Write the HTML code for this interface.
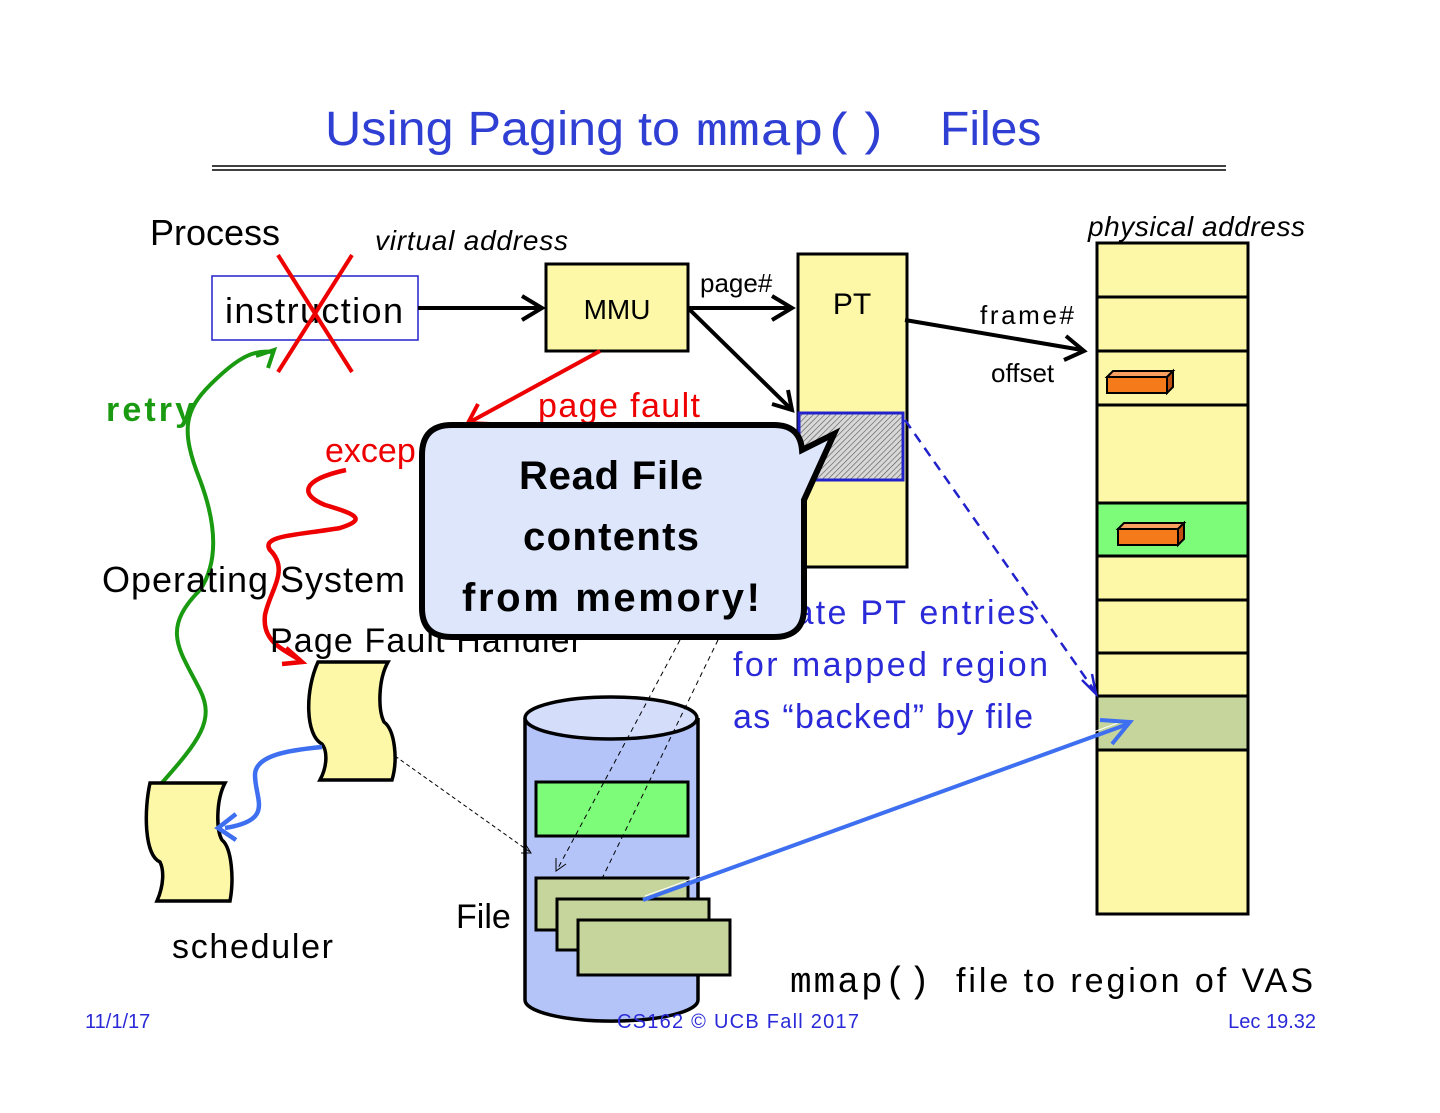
<!DOCTYPE html>
<html><head><meta charset="utf-8"><style>
html,body{margin:0;padding:0;background:#fff}
svg{display:block}
text{font-family:"Liberation Sans",sans-serif}
</style></head><body>
<svg width="1440" height="1113" viewBox="0 0 1440 1113" xmlns="http://www.w3.org/2000/svg">
<defs>
<pattern id="hatch" width="4" height="4" patternUnits="userSpaceOnUse" patternTransform="rotate(45)">
<rect width="4" height="4" fill="#d8d8d8"/><line x1="0" y1="0" x2="0" y2="4" stroke="#555" stroke-width="1.2"/></pattern>
</defs>
<!-- title -->
<text x="325" y="145" font-size="48" fill="#2f3fd4" textLength="355" lengthAdjust="spacingAndGlyphs">Using Paging to</text>
<text x="696" y="145" font-size="46" fill="#2f3fd4" font-family="Liberation Mono" textLength="192" lengthAdjust="spacingAndGlyphs" style="font-family:'Liberation Mono',monospace">mmap()</text>
<text x="940" y="145" font-size="48" fill="#2f3fd4">Files</text>
<line x1="212" y1="166" x2="1226" y2="166" stroke="#000" stroke-width="1.5"/>
<line x1="212" y1="170" x2="1226" y2="170" stroke="#000" stroke-width="1.5"/>

<text x="150" y="245" font-size="36" fill="#000">Process</text>
<text x="375" y="250" font-size="28" font-style="italic" fill="#000" textLength="193">virtual address</text>
<text x="1088" y="236" font-size="28" font-style="italic" fill="#000" textLength="217">physical address</text>

<rect x="212" y="276" width="206" height="64" fill="#fff" stroke="#22c" stroke-width="1.5"/>
<text x="225" y="323" font-size="36" fill="#000" textLength="178">instruction</text>
<line x1="278" y1="255" x2="352" y2="372" stroke="#e00" stroke-width="4"/>
<line x1="352" y1="255" x2="278" y2="372" stroke="#e00" stroke-width="4"/>

<line x1="418" y1="308" x2="540" y2="308" stroke="#000" stroke-width="4"/>
<polyline points="522,296 542,308 522,320" fill="none" stroke="#000" stroke-width="4"/>
<rect x="546" y="264" width="142" height="87" fill="#fdf8a8" stroke="#000" stroke-width="3"/>
<text x="617" y="319" font-size="28" text-anchor="middle">MMU</text>
<text x="700" y="292" font-size="26">page#</text>
<line x1="688" y1="308" x2="790" y2="308" stroke="#000" stroke-width="4"/>
<polyline points="772,296 792,308 772,320" fill="none" stroke="#000" stroke-width="4"/>
<line x1="688" y1="308" x2="790" y2="408" stroke="#000" stroke-width="4"/>
<polyline points="772,404 792,410 788,390" fill="none" stroke="#000" stroke-width="4"/>

<rect x="798" y="254" width="109" height="313" fill="#fdf8a8" stroke="#000" stroke-width="3"/>
<text x="852" y="314" font-size="30" text-anchor="middle">PT</text>
<rect x="799" y="413" width="104" height="67" fill="url(#hatch)" stroke="#22c" stroke-width="3"/>
<line x1="905" y1="320" x2="1082" y2="350" stroke="#000" stroke-width="4"/>
<polyline points="1066,336 1084,351 1064,360" fill="none" stroke="#000" stroke-width="4"/>
<text x="980" y="324" font-size="26" textLength="94">frame#</text>
<text x="991" y="382" font-size="26">offset</text>

<!-- physical memory -->
<rect x="1097" y="243" width="151" height="671" fill="#fdf8a8" stroke="#000" stroke-width="3"/>
<rect x="1097" y="503" width="151" height="53" fill="#7cfc78" stroke="#000" stroke-width="3"/>
<rect x="1097" y="696" width="151" height="54" fill="#c5d59c" stroke="#000" stroke-width="3"/>
<g stroke="#000" stroke-width="3">
<line x1="1097" y1="297" x2="1248" y2="297"/><line x1="1097" y1="351" x2="1248" y2="351"/>
<line x1="1097" y1="405" x2="1248" y2="405"/><line x1="1097" y1="600" x2="1248" y2="600"/>
<line x1="1097" y1="653" x2="1248" y2="653"/></g>
<g stroke="#000" stroke-width="2" fill="#f47a1a">
<rect x="1107" y="377" width="60" height="16"/><polygon points="1107,377 1113,371 1173,371 1167,377" fill="#f9a060"/><polygon points="1167,377 1173,371 1173,387 1167,393" fill="#c05010"/>
<rect x="1118" y="529" width="60" height="16"/><polygon points="1118,529 1124,523 1184,523 1178,529" fill="#f9a060"/><polygon points="1178,529 1184,523 1184,539 1178,545" fill="#c05010"/>
</g>

<!-- dashed blue -->
<line x1="905" y1="420" x2="1094" y2="690" stroke="#22c" stroke-width="2.5" stroke-dasharray="10,7"/>
<polyline points="1082,680 1096,694 1092,674" fill="none" stroke="#22c" stroke-width="2.5"/>

<!-- red page fault -->
<line x1="600" y1="351" x2="470" y2="422" stroke="#e00" stroke-width="4"/>
<polyline points="478,404 468,423 490,424" fill="none" stroke="#e00" stroke-width="4"/>
<text x="538" y="417" font-size="34" fill="#e00" textLength="162">page fault</text>
<text x="325" y="462" font-size="34" fill="#e00">excep</text>
<path d="M346,470 C300,480 300,495 325,505 C360,515 365,520 340,528 C300,535 260,535 270,550 C290,570 270,590 265,615 C262,640 280,648 300,660" fill="none" stroke="#e00" stroke-width="4.5"/>
<polyline points="286,648 302,662 282,664" fill="none" stroke="#e00" stroke-width="4.5"/>

<!-- green retry -->
<text x="106" y="421" font-size="34" font-weight="bold" fill="#1a9a10" textLength="88">retry</text>
<path d="M160,785 C200,740 215,720 200,690 C180,650 160,630 200,590 C220,560 215,520 200,480 C180,430 185,410 210,385 C240,355 255,350 272,352" fill="none" stroke="#1a9a10" stroke-width="4"/>
<polyline points="256,356 274,350 268,368" fill="none" stroke="#1a9a10" stroke-width="4"/>

<text x="102" y="592" font-size="36" textLength="303">Operating System</text>
<text x="270" y="652" font-size="34" textLength="312">Page Fault Handler</text>

<!-- scrolls -->
<path d="M318,662 L388,662 C378,680 378,710 384,722 C395,730 398,760 392,780 L320,780 C328,765 327,750 322,744 C305,735 305,690 318,662 Z" fill="#fdf8a8" stroke="#000" stroke-width="3.5"/>
<path d="M150,783 L225,783 C216,800 216,830 222,840 C232,848 234,880 230,901 L157,901 C164,885 164,870 160,862 C144,855 144,810 150,783 Z" fill="#fdf8a8" stroke="#000" stroke-width="3.5"/>
<text x="172" y="958" font-size="34" textLength="161">scheduler</text>
<path d="M322,747 C290,750 255,755 255,775 C255,800 275,820 225,828" fill="none" stroke="#3d6ff0" stroke-width="4.5"/>
<polyline points="236,814 218,828 236,840" fill="none" stroke="#3d6ff0" stroke-width="4.5"/>

<!-- cylinder -->
<path d="M525,718 L525,1000 A86,21 0 0 0 698,1000 L698,718" fill="#b4c4f8" stroke="#000" stroke-width="3.5"/>
<ellipse cx="611" cy="718" rx="86" ry="21" fill="#d4defb" stroke="#000" stroke-width="3.5"/>
<rect x="536" y="782" width="152" height="54" fill="#7cfc78" stroke="#000" stroke-width="3"/>
<line x1="395" y1="756" x2="530" y2="852" stroke="#000" stroke-width="1" stroke-dasharray="4,3"/>
<polyline points="524,842 531,853 521,853" fill="none" stroke="#000" stroke-width="1"/>
<line x1="680" y1="640" x2="557" y2="870" stroke="#000" stroke-width="1" stroke-dasharray="5,4"/>
<polyline points="556,858 556,871 566,864" fill="none" stroke="#000" stroke-width="1"/>
<line x1="718" y1="640" x2="578" y2="928" stroke="#000" stroke-width="1" stroke-dasharray="5,4"/>
<rect x="536" y="878" width="152" height="52" fill="#c5d59c" stroke="#000" stroke-width="3"/>
<rect x="557" y="899" width="152" height="51" fill="#c5d59c" stroke="#000" stroke-width="3"/>
<rect x="578" y="920" width="152" height="55" fill="#c5d59c" stroke="#000" stroke-width="3"/>
<text x="456" y="928" font-size="34">File</text>
<line x1="643" y1="900" x2="1128" y2="724" stroke="#3d6ff0" stroke-width="4"/>
<line x1="645" y1="896" x2="1126" y2="720" stroke="#fff" stroke-width="1"/>
<polyline points="1100,720 1130,722 1112,744" fill="none" stroke="#3d6ff0" stroke-width="4"/>

<text x="733" y="624" font-size="34" fill="#2a2ad8" textLength="302">Create PT entries</text>
<text x="733" y="676" font-size="34" fill="#2a2ad8" textLength="315">for mapped region</text>
<text x="733" y="728" font-size="34" fill="#2a2ad8" textLength="300">as “backed” by file</text>

<!-- callout -->
<path d="M452,425 L774,425 Q800,425 802,450 L834,434 L804,500 L804,608 Q804,637 774,637 L452,637 Q422,637 422,608 L422,455 Q422,425 452,425 Z" fill="#dde6fb" stroke="#000" stroke-width="6"/>
<text x="611" y="489" font-size="40" text-anchor="middle" font-weight="bold" textLength="184">Read File</text>
<text x="611" y="550" font-size="40" text-anchor="middle" font-weight="bold" textLength="176">contents</text>
<text x="611" y="611" font-size="40" text-anchor="middle" font-weight="bold" textLength="298">from memory!</text>

<text x="790" y="992" font-size="36" style="font-family:'Liberation Mono',monospace" textLength="140">mmap()</text>
<text x="956" y="992" font-size="34" textLength="357">file to region of VAS</text>
<text x="85" y="1028" font-size="20" fill="#2a2ad8">11/1/17</text>
<text x="617" y="1028" font-size="20" fill="#2a2ad8" textLength="242">CS162 © UCB Fall 2017</text>
<text x="1316" y="1028" font-size="20" fill="#2a2ad8" text-anchor="end">Lec 19.32</text>
</svg>
</body></html>
